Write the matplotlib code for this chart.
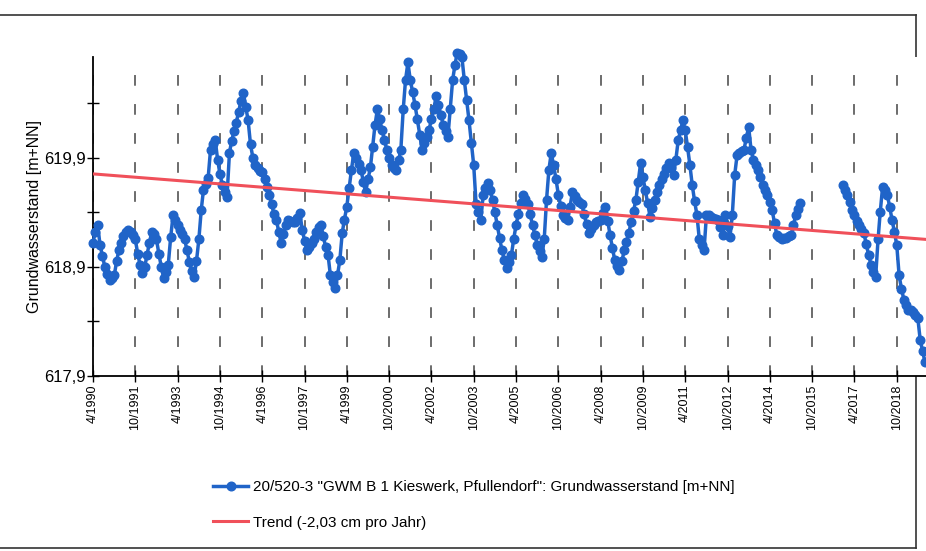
import matplotlib.pyplot as plt
import matplotlib.ticker as mticker
from matplotlib.lines import Line2D
import numpy as np
import pandas as pd

plt.rcParams['font.family'] = ['Liberation Sans', 'DejaVu Sans']

# Monatswerte Grundwasserstand [m+NN], ab April 1990 (je Zeile 12 Monate, April bis Maerz)
nan = np.nan
stand = [
    619.12, 619.22, 619.28, 619.10, 619.00, 618.90, 618.83, 618.78, 618.80, 618.82, 618.95, 619.05,
    619.12, 619.18, 619.22, 619.24, 619.22, 619.19, 619.15, 619.02, 618.92, 618.84, 618.90, 619.01,
    619.12, 619.22, 619.20, 619.15, 619.02, 618.90, 618.80, 618.85, 618.92, 619.17, 619.37, 619.33,
    619.28, 619.24, 619.20, 619.15, 619.05, 618.94, 618.86, 618.81, 618.95, 619.15, 619.42, 619.60,
    619.66, 619.71, 619.97, 620.02, 620.06, 619.88, 619.75, 619.65, 619.58, 619.54, 619.94, 620.05,
    620.14, 620.22, 620.32, 620.42, 620.49, 620.36, 620.24, 620.02, 619.90, 619.83, 619.80, 619.78,
    619.77, 619.70, 619.63, 619.56, 619.47, 619.38, 619.33, 619.22, 619.12, 619.20, 619.28, 619.33,
    619.32, 619.31, 619.31, 619.35, 619.39, 619.24, 619.14, 619.05, 619.08, 619.12, 619.15, 619.22,
    619.26, 619.28, 619.18, 619.08, 619.01, 618.82, 618.76, 618.71, 618.82, 618.96, 619.21, 619.33,
    619.45, 619.62, 619.79, 619.94, 619.90, 619.84, 619.79, 619.68, 619.58, 619.70, 619.81, 620.00,
    620.20, 620.34, 620.25, 620.15, 620.06, 619.97, 619.90, 619.83, 619.80, 619.79, 619.88, 619.97,
    620.34, 620.61, 620.77, 620.61, 620.50, 620.38, 620.25, 620.11, 619.97, 620.03, 620.09, 620.15,
    620.25, 620.34, 620.46, 620.38, 620.29, 620.20, 620.14, 620.09, 620.34, 620.61, 620.75, 620.86,
    620.85, 620.82, 620.61, 620.43, 620.24, 620.03, 619.83, 619.47, 619.40, 619.33, 619.56, 619.62,
    619.67, 619.60, 619.51, 619.40, 619.28, 619.16, 619.05, 618.96, 618.89, 618.94, 619.01, 619.15,
    619.28, 619.38, 619.48, 619.56, 619.52, 619.47, 619.38, 619.28, 619.19, 619.10, 619.04, 618.99,
    619.15, 619.51, 619.79, 619.94, 619.83, 619.70, 619.56, 619.46, 619.37, 619.35, 619.33, 619.45,
    619.58, 619.55, 619.51, 619.49, 619.47, 619.38, 619.29, 619.21, 619.25, 619.28, 619.31, 619.32,
    619.33, 619.39, 619.45, 619.32, 619.19, 619.07, 618.96, 618.91, 618.87, 618.95, 619.05, 619.13,
    619.21, 619.31, 619.41, 619.51, 619.68, 619.85, 619.72, 619.60, 619.48, 619.36, 619.44, 619.51,
    619.58, 619.65, 619.70, 619.75, 619.80, 619.85, 619.80, 619.74, 619.88, 620.06, 620.15, 620.24,
    620.15, 620.00, 619.83, 619.65, 619.50, 619.37, 619.15, 619.10, 619.05, 619.37, 619.37, 619.36,
    619.35, 619.34, 619.33, 619.26, 619.19, 619.37, 619.27, 619.17, 619.37, 619.74, 619.92, 619.94,
    619.96, 619.97, 620.08, 620.18, 619.97, 619.88, 619.83, 619.79, 619.72, 619.65, 619.60, 619.56,
    619.49, 619.42, 619.30, 619.19, 619.17, 619.15, 619.16, 619.16, 619.18, 619.19, 619.28, 619.37,
    619.43, 619.48, nan, nan, nan, nan, nan, nan, nan, nan, nan, nan,
    nan, nan, nan, nan, nan, nan, nan, 619.65, 619.60, 619.56, 619.49, 619.42,
    619.37, 619.32, 619.28, 619.25, 619.21, 619.11, 619.01, 618.92, 618.85, 618.81, 619.15, 619.40,
    619.63, 619.60, 619.56, 619.45, 619.33, 619.22, 619.10, 618.82, 618.70, 618.60, 618.55, 618.50,
    618.50, 618.49, 618.46, 618.43, 618.23, 618.13, 618.03,
]
datum = pd.date_range('1990-04-01', periods=len(stand), freq='MS')

trend_start = 619.75      # m+NN am 1.4.1990
trend_cm_jahr = -2.03

x_start = pd.Timestamp('1990-04-01')
x_ende = pd.Timestamp('2019-10-15')
y_min, y_max = 617.9, 620.82

fig = plt.figure(figsize=(9.26, 5.51), dpi=100)

# Rahmen um die Grafik
for xs, ys in [([0, 916 / 926], [1 - 15 / 551] * 2),
               ([0, 916 / 926], [1 - 548 / 551] * 2),
               ([916 / 926] * 2, [1 - 15 / 551, 1 - 548 / 551])]:
    fig.add_artist(Line2D(xs, ys, color='#333333', lw=1.2, zorder=0))

ax = fig.add_axes([93 / 926, 175 / 551, 833 / 926, 319 / 551])

ticks = pd.date_range('1990-04-01', '2018-10-01', freq='18MS')
for t in ticks:
    ax.axvline(t, color='#444444', lw=1.1, dashes=(7, 12), zorder=1)

ax.plot(datum, stand, color='#2064c8', lw=2.5, marker='o', ms=6.2,
        mec='#2064c8', mfc='#2064c8', zorder=3, clip_on=False,
        label='20/520-3 "GWM B 1 Kieswerk, Pfullendorf": Grundwasserstand [m+NN]')

jahre = (x_ende - x_start).days / 365.25
ax.plot([x_start, x_ende], [trend_start, trend_start + trend_cm_jahr / 100 * jahre],
        color='#f0505a', lw=2.2, zorder=4, label='Trend (-2,03 cm pro Jahr)')

ax.set_xlim(x_start, x_ende)
ax.set_ylim(y_min, y_max)
ax.set_xticks(ticks)
ax.set_xticklabels([f'{d.month}/{d.year}' for d in ticks], rotation=90, fontsize=9)

yt = np.arange(617.9, 620.5, 0.5)
ax.set_yticks(yt)
ax.yaxis.set_major_formatter(mticker.FuncFormatter(
    lambda v, p: f'{v:.1f}'.replace('.', ',') if p % 2 == 0 else ''))
ax.tick_params(axis='y', labelsize=12, direction='inout', length=8, width=1, pad=1)
ax.tick_params(axis='x', direction='inout', length=8, width=1, pad=2)
ax.set_ylabel('Grundwasserstand [m+NN]', fontsize=11.5, labelpad=2)

for s in ['top', 'right']:
    ax.spines[s].set_visible(False)
ax.spines['left'].set_linewidth(1.3)
ax.spines['bottom'].set_linewidth(1.3)

fig.legend(loc='center left', bbox_to_anchor=(213 / 926, 1 - 505 / 551),
           frameon=False, fontsize=11, handlelength=2.3, handletextpad=0.3,
           labelspacing=1.4, borderpad=0, borderaxespad=0)

plt.savefig('out.png', dpi=100)
